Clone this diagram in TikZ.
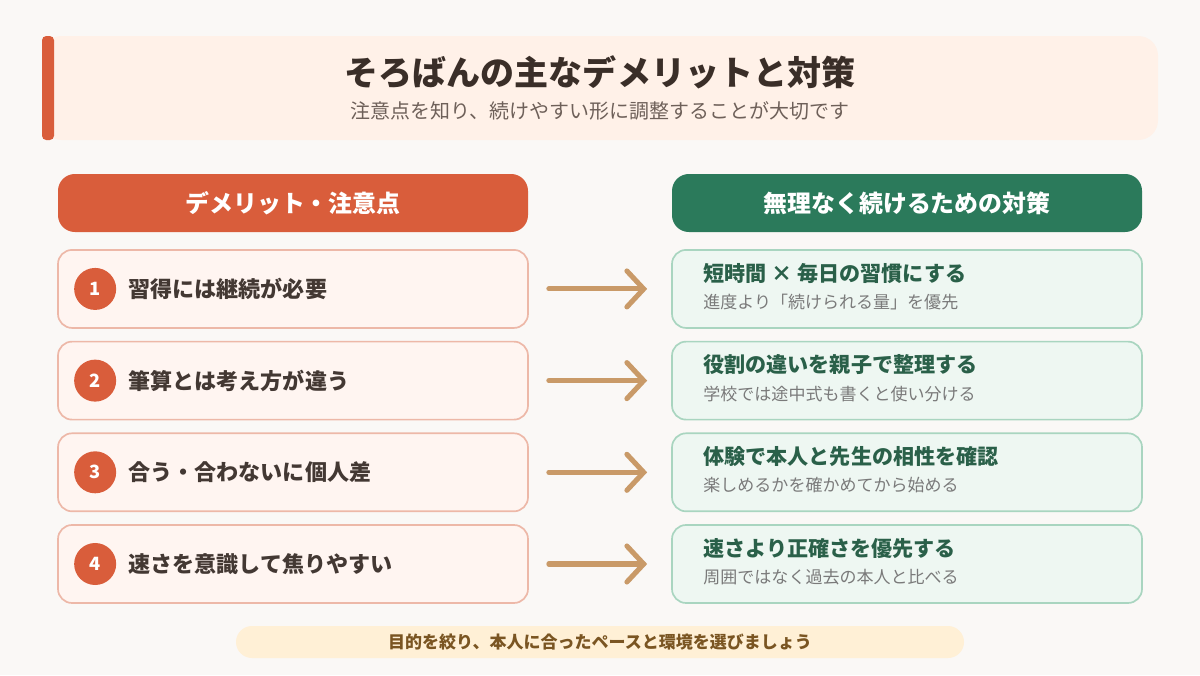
\documentclass[tikz,border=0pt]{standalone}
\usepackage{fontspec}
\setmainfont{Noto Sans CJK JP}
\usepackage{tikz}
\usetikzlibrary{positioning,arrows.meta}
\usepackage{xcolor}

\definecolor{pagebg}{HTML}{FAF8F6}
\definecolor{titlebg}{HTML}{FFF1E8}
\definecolor{accent}{HTML}{D95D3B}
\definecolor{titletext}{HTML}{3A2E28}
\definecolor{subtext}{HTML}{6E6059}
\definecolor{fixgreen}{HTML}{2B7A5B}
\definecolor{minusfill}{HTML}{FFF5F1}
\definecolor{minusline}{HTML}{EDB8A8}
\definecolor{minustext}{HTML}{433833}
\definecolor{fixfill}{HTML}{EEF7F2}
\definecolor{fixline}{HTML}{A9D5C0}
\definecolor{fixtitle}{HTML}{2A6049}
\definecolor{fixsub}{HTML}{7A7A7A}
\definecolor{arrowtan}{HTML}{C99A68}
\definecolor{notefill}{HTML}{FFF0D6}
\definecolor{notetext}{HTML}{7A5522}

\begin{document}
\begin{tikzpicture}[
  header/.style={
    rounded corners=12pt, minimum width=11.75cm, minimum height=1.45cm,
    text=white, font=\fontsize{17}{21}\selectfont\bfseries
  },
  minuscard/.style={
    draw=minusline, fill=minusfill, line width=1.2pt, rounded corners=10pt,
    minimum width=11.75cm, minimum height=1.95cm
  },
  fixcard/.style={
    draw=fixline, fill=fixfill, line width=1.2pt, rounded corners=10pt,
    minimum width=11.75cm, minimum height=1.95cm
  },
  numbadge/.style={
    circle, fill=accent, minimum size=1.05cm, inner sep=0pt,
    text=white, font=\fontsize{13}{15}\selectfont\bfseries
  },
  minuslabel/.style={
    anchor=west, inner sep=0pt, text=minustext,
    font=\fontsize{15.7}{18}\selectfont\bfseries
  },
  fixlabel/.style={
    anchor=west, inner sep=0pt, text=fixtitle,
    font=\fontsize{15}{18}\selectfont\bfseries
  },
  fixnote/.style={
    anchor=west, inner sep=0pt, text=fixsub,
    font=\fontsize{12.1}{14}\selectfont
  },
  arrow/.style={
    -{Straight Barb[length=0.42cm, width=0.9cm, line cap=round]},
    line width=3.6pt, line cap=round, color=arrowtan,
    shorten <=0.5cm, shorten >=0.6cm
  }
]

% --- Tło ---
\fill[pagebg] (0,0) rectangle (30,-16.875);

% --- Tytuł ---
\fill[titlebg, rounded corners=14pt] (1.05,-0.9) rectangle (28.95,-3.5);
\fill[accent, rounded corners=3pt] (1.05,-0.9) rectangle (1.35,-3.5);
\node[text=titletext, font=\fontsize{24.2}{29}\selectfont\bfseries] (title) at (15,-1.8)
  {そろばんの主なデメリットと対策};
\node[text=subtext, font=\fontsize{14.2}{17}\selectfont] (subtitle) at (15,-2.78)
  {注意点を知り、続けやすい形に調整することが大切です};

% --- Nagłówki kolumn ---
\node[header, fill=accent] (minushead) at (7.325,-5.075) {デメリット・注意点};
\node[header, fill=fixgreen] (fixhead) at (22.675,-5.075) {無理なく続けるための対策};

% --- Lewa kolumna ---
\node[minuscard, below=0.42cm of minushead] (minus1) {};
\node[minuscard, below=0.3cm of minus1] (minus2) {};
\node[minuscard, below=0.3cm of minus2] (minus3) {};
\node[minuscard, below=0.3cm of minus3] (minus4) {};

\node[numbadge] (num1) at ([xshift=0.95cm]minus1.west) {1};
\node[numbadge] (num2) at ([xshift=0.95cm]minus2.west) {2};
\node[numbadge] (num3) at ([xshift=0.95cm]minus3.west) {3};
\node[numbadge] (num4) at ([xshift=0.95cm]minus4.west) {4};

\node[minuslabel] (mtext1) at ([xshift=1.775cm]minus1.west) {習得には継続が必要};
\node[minuslabel] (mtext2) at ([xshift=1.775cm]minus2.west) {筆算とは考え方が違う};
\node[minuslabel] (mtext3) at ([xshift=1.775cm]minus3.west) {合う・合わないに個人差};
\node[minuslabel] (mtext4) at ([xshift=1.775cm]minus4.west) {速さを意識して焦りやすい};

% --- Prawa kolumna ---
\node[fixcard, below=0.42cm of fixhead] (fix1) {};
\node[fixcard, below=0.3cm of fix1] (fix2) {};
\node[fixcard, below=0.3cm of fix2] (fix3) {};
\node[fixcard, below=0.3cm of fix3] (fix4) {};

\node[fixlabel] (ftitle1) at ([xshift=0.8cm, yshift=-0.6cm]fix1.north west) {短時間 × 毎日の習慣にする};
\node[fixnote] (fnote1) at ([xshift=0.8cm, yshift=-1.32cm]fix1.north west) {進度より「続けられる量」を優先};
\node[fixlabel] (ftitle2) at ([xshift=0.8cm, yshift=-0.6cm]fix2.north west) {役割の違いを親子で整理する};
\node[fixnote] (fnote2) at ([xshift=0.8cm, yshift=-1.32cm]fix2.north west) {学校では途中式も書くと使い分ける};
\node[fixlabel] (ftitle3) at ([xshift=0.8cm, yshift=-0.6cm]fix3.north west) {体験で本人と先生の相性を確認};
\node[fixnote] (fnote3) at ([xshift=0.8cm, yshift=-1.32cm]fix3.north west) {楽しめるかを確かめてから始める};
\node[fixlabel] (ftitle4) at ([xshift=0.8cm, yshift=-0.6cm]fix4.north west) {速さより正確さを優先する};
\node[fixnote] (fnote4) at ([xshift=0.8cm, yshift=-1.32cm]fix4.north west) {周囲ではなく過去の本人と比べる};

% --- Strzałki ---
\draw[arrow] (minus1.east) -- (fix1.west);
\draw[arrow] (minus2.east) -- (fix2.west);
\draw[arrow] (minus3.east) -- (fix3.west);
\draw[arrow] (minus4.east) -- (fix4.west);

% --- Podsumowanie ---
\node[fill=notefill, rounded corners=0.4cm, minimum width=18.2cm, minimum height=0.8cm,
  text=notetext, font=\fontsize{12.1}{14}\selectfont\bfseries] (summary) at (15,-16.05)
  {目的を絞り、本人に合ったペースと環境を選びましょう};

\end{tikzpicture}
\end{document}
